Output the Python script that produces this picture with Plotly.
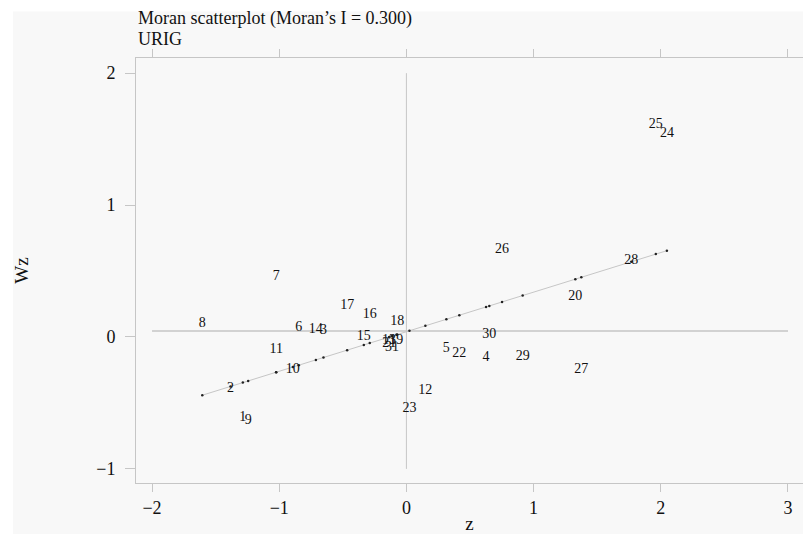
import plotly.graph_objects as go

# ---- data ----
ids = [str(i) for i in range(1, 32)]
z = [-1.286, -1.383, -0.652, 0.626, 0.314, -0.846, -1.024, -1.605, -1.244, -0.893,
     -1.024, 0.149, -0.137, -0.712, -0.335, -0.288, -0.466, -0.073, -0.079, 1.328,
     -0.134, 0.416, 0.024, 2.048, 1.961, 0.752, 1.375, 1.768, 0.914, 0.652, -0.114]
wz = [-0.608, -0.389, 0.050, -0.158, -0.088, 0.075, 0.457, 0.105, -0.635, -0.243,
      -0.093, -0.407, -0.030, 0.058, 0.000, 0.168, 0.239, 0.118, -0.025, 0.309,
      -0.050, -0.126, -0.540, 1.545, 1.613, 0.666, -0.243, 0.578, -0.151, 0.020, -0.078]

moran_i = 0.300          # slope of the fitted line (from title)
fit_intercept = 0.040    # intercept of the fitted line
wz_ref = 0.045           # horizontal reference level
z_ref = 0.0              # vertical reference level
vref_span = [-1, 2]      # extent of vertical reference line (Wz)
href_span = [-2, 3]      # extent of horizontal reference line (z)
xticks = [-2, -1, 0, 1, 2, 3]
yticks = [-1, 0, 1, 2]
title_line1 = "Moran scatterplot (Moran\u2019s I = 0.300)"
title_line2 = "URIG"

fitted = [fit_intercept + moran_i * v for v in z]
zmin, zmax = min(z), max(z)

FONT = "Liberation Serif"
GREY = "#c6c6c6"
TXT = "#111111"
BG = "#f8f8f8"

fig = go.Figure()
fig.add_trace(go.Scatter(x=[z_ref, z_ref], y=vref_span, mode="lines",
                         line=dict(color=GREY, width=1), hoverinfo="skip"))
fig.add_trace(go.Scatter(x=href_span, y=[wz_ref, wz_ref], mode="lines",
                         line=dict(color=GREY, width=1.5), hoverinfo="skip"))
fig.add_trace(go.Scatter(x=[zmin, zmax],
                         y=[fit_intercept + moran_i * zmin, fit_intercept + moran_i * zmax],
                         mode="lines", line=dict(color=GREY, width=1), hoverinfo="skip"))
fig.add_trace(go.Scatter(x=z, y=fitted, mode="markers",
                         marker=dict(color="#222222", size=2.5), hoverinfo="skip"))
fig.add_trace(go.Scatter(x=z, y=wz, mode="text", text=ids, textposition="middle center",
                         textfont=dict(family=FONT, size=14, color=TXT)))

W, H = 803, 534
L, R, T, B = 136, 0, 58, 47
pw, ph = W - L - R, H - T - B

def px_x(p):
    return (p - L) / pw

def px_y(p):
    return (H - B - p) / ph

fig.update_layout(
    width=W, height=H,
    margin=dict(l=L, r=R, t=T, b=B, pad=0),
    paper_bgcolor="white", plot_bgcolor=BG,
    showlegend=False,
    font=dict(family=FONT, color=TXT),
    xaxis=dict(range=[-2.126, 3.118], tickvals=xticks, ticks="outside", ticklen=8,
               tickcolor=GREY, tickwidth=1, showline=True, linecolor=GREY, linewidth=1,
               mirror="ticks", showgrid=False, zeroline=False,
               tickfont=dict(family=FONT, size=18, color=TXT),
               title=dict(text="z", font=dict(family=FONT, size=19, color=TXT), standoff=3)),
    yaxis=dict(range=[-1.107, 2.115], tickvals=yticks, ticks="outside", ticklen=10,
               tickcolor=GREY, tickwidth=1, showline=True, linecolor=GREY, linewidth=1,
               mirror=False, showgrid=False, zeroline=False,
               tickfont=dict(family=FONT, size=18, color=TXT), ticklabelstandoff=6,
               title=dict(text="Wz", font=dict(family=FONT, size=19, color=TXT), standoff=62)),
    shapes=[dict(type="rect", xref="paper", yref="paper", layer="below",
                 x0=px_x(13), x1=px_x(W + 5), y0=px_y(H + 5), y1=px_y(11),
                 fillcolor=BG, line=dict(width=0))],
    annotations=[
        dict(text=title_line1, xref="paper", yref="paper", x=0, y=px_y(18),
             xanchor="left", yanchor="middle", showarrow=False,
             font=dict(family=FONT, size=18, color=TXT)),
        dict(text=title_line2, xref="paper", yref="paper", x=0, y=px_y(39),
             xanchor="left", yanchor="middle", showarrow=False,
             font=dict(family=FONT, size=18, color=TXT)),
    ],
)

fig.write_html("out.html",
               config={"displayModeBar": False},
               post_script="document.body.style.margin='0';"
                           "document.body.style.overflow='hidden';")
